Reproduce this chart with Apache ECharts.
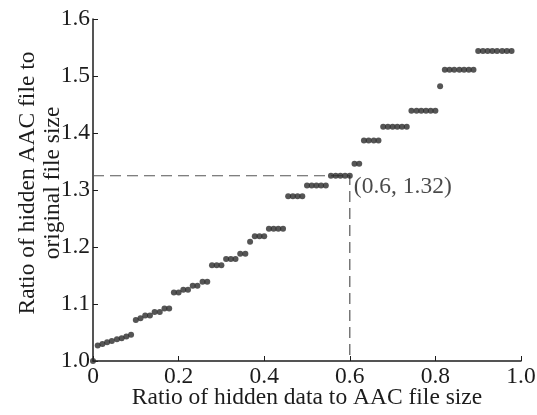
<!DOCTYPE html>
<html>
<head>
<meta charset="utf-8">
<script src="https://cdn.jsdelivr.net/npm/echarts@6/dist/echarts.min.js"></script>
<style>
html,body{margin:0;padding:0;background:#fff;}
#chart{width:537px;height:415px;}
</style>
</head>
<body>
<div id="chart"></div>
<script>
// Ratio of hidden data to AAC file size
var hiddenRatio = [0,
 0.011,0.022,0.033,0.044,0.056,0.067,0.078,0.089,
 0.100,0.111,
 0.122,0.133,
 0.144,0.156,
 0.167,0.178,
 0.189,0.200,
 0.211,0.222,
 0.233,0.244,
 0.256,0.267,
 0.278,0.289,0.300,
 0.311,0.322,0.333,
 0.344,0.356,
 0.367,
 0.378,0.389,0.400,
 0.411,0.422,0.433,0.444,
 0.456,0.467,0.478,0.489,
 0.500,0.511,0.522,0.533,0.544,
 0.556,0.567,0.578,0.589,0.600,
 0.611,0.622,
 0.633,0.644,0.656,0.667,
 0.678,0.689,0.700,0.711,0.722,0.733,
 0.744,0.756,0.767,0.778,0.789,0.800,
 0.811,
 0.822,0.833,0.844,0.856,0.867,0.878,0.889,
 0.900,0.911,0.922,0.933,0.944,0.956,0.967,0.978];
// Ratio of hidden AAC file to original file size
var sizeRatio = [1.000,
 1.027,1.030,1.033,1.035,1.038,1.040,1.043,1.046,
 1.072,1.075,
 1.080,1.080,
 1.086,1.086,
 1.092,1.092,
 1.120,1.120,
 1.125,1.125,
 1.132,1.132,
 1.139,1.139,
 1.168,1.168,1.168,
 1.179,1.179,1.179,
 1.188,1.188,
 1.209,
 1.219,1.219,1.219,
 1.232,1.232,1.232,1.232,
 1.289,1.289,1.289,1.289,
 1.308,1.308,1.308,1.308,1.308,
 1.325,1.325,1.325,1.325,1.325,
 1.346,1.346,
 1.387,1.387,1.387,1.387,
 1.411,1.411,1.411,1.411,1.411,1.411,
 1.439,1.439,1.439,1.439,1.439,1.439,
 1.482,
 1.511,1.511,1.511,1.511,1.511,1.511,1.511,
 1.544,1.544,1.544,1.544,1.544,1.544,1.544,1.544];

var guideX = [0, 0.6, 0.6];
var guideY = [1.325, 1.325, 1.0];
var markerPoint = [0.6, 1.325];
var markerText = '(0.6, 1.32)';

var xTitle = 'Ratio of hidden data to AAC file size';
var yTitle = 'Ratio of hidden AAC file to\noriginal file size';

var points = hiddenRatio.map(function(x, i){ return [x, sizeRatio[i]]; });
var guide = guideX.map(function(x, i){ return [x, guideY[i]]; });

var font = 'Liberation Serif';
var fs = 23.5;
var ink = '#1c1c1c';
var chart = echarts.init(document.getElementById('chart'), null, {renderer:'canvas'});
chart.setOption({
  animation:false,
  backgroundColor:'#fff',
  grid:{left:93, right:16, top:19, bottom:54, containLabel:false, outerBoundsMode:'none'},
  xAxis:{
    type:'value', min:0, max:1, interval:0.2,
    name:xTitle, nameLocation:'middle', nameGap:25, nameMoveOverlap:false,
    nameTextStyle:{fontFamily:font, fontSize:fs, color:ink},
    axisLine:{show:true, onZero:false, lineStyle:{color:ink, width:1.5}},
    axisTick:{show:true, inside:true, length:5, lineStyle:{color:ink, width:1}},
    axisLabel:{fontFamily:font, fontSize:fs, color:ink, margin:4,
      formatter:function(v){ return v===0 ? '0' : v.toFixed(1); }},
    splitLine:{show:false}
  },
  yAxis:{
    type:'value', min:1.0, max:1.6, interval:0.1,
    name:yTitle, nameLocation:'middle', nameGap:28, nameRotate:90, nameMoveOverlap:false,
    nameTextStyle:{fontFamily:font, fontSize:fs, color:ink, lineHeight:25, align:'center', padding:[0,0,0,14]},
    axisLine:{show:true, onZero:false, lineStyle:{color:ink, width:1.5}},
    axisTick:{show:true, inside:true, length:5, lineStyle:{color:ink, width:1}},
    axisLabel:{fontFamily:font, fontSize:fs, color:ink, margin:3,
      formatter:function(v){ return v.toFixed(1); }},
    splitLine:{show:false}
  },
  series:[
    {
      type:'line', data:guide, symbol:'none', silent:true,
      lineStyle:{color:'#555', width:1.2, type:[11,6]}, z:1
    },
    {
      type:'scatter', data:points, symbol:'circle', symbolSize:6,
      itemStyle:{color:'#2a2a2a'}, z:3
    },
    {
      type:'scatter', data:[markerPoint], symbolSize:0, z:4,
      label:{show:true, position:'right', distance:4, offset:[0,11],
        formatter:markerText, fontFamily:font, fontSize:fs, color:ink}
    }
  ]
});
</script>
</body>
</html>
